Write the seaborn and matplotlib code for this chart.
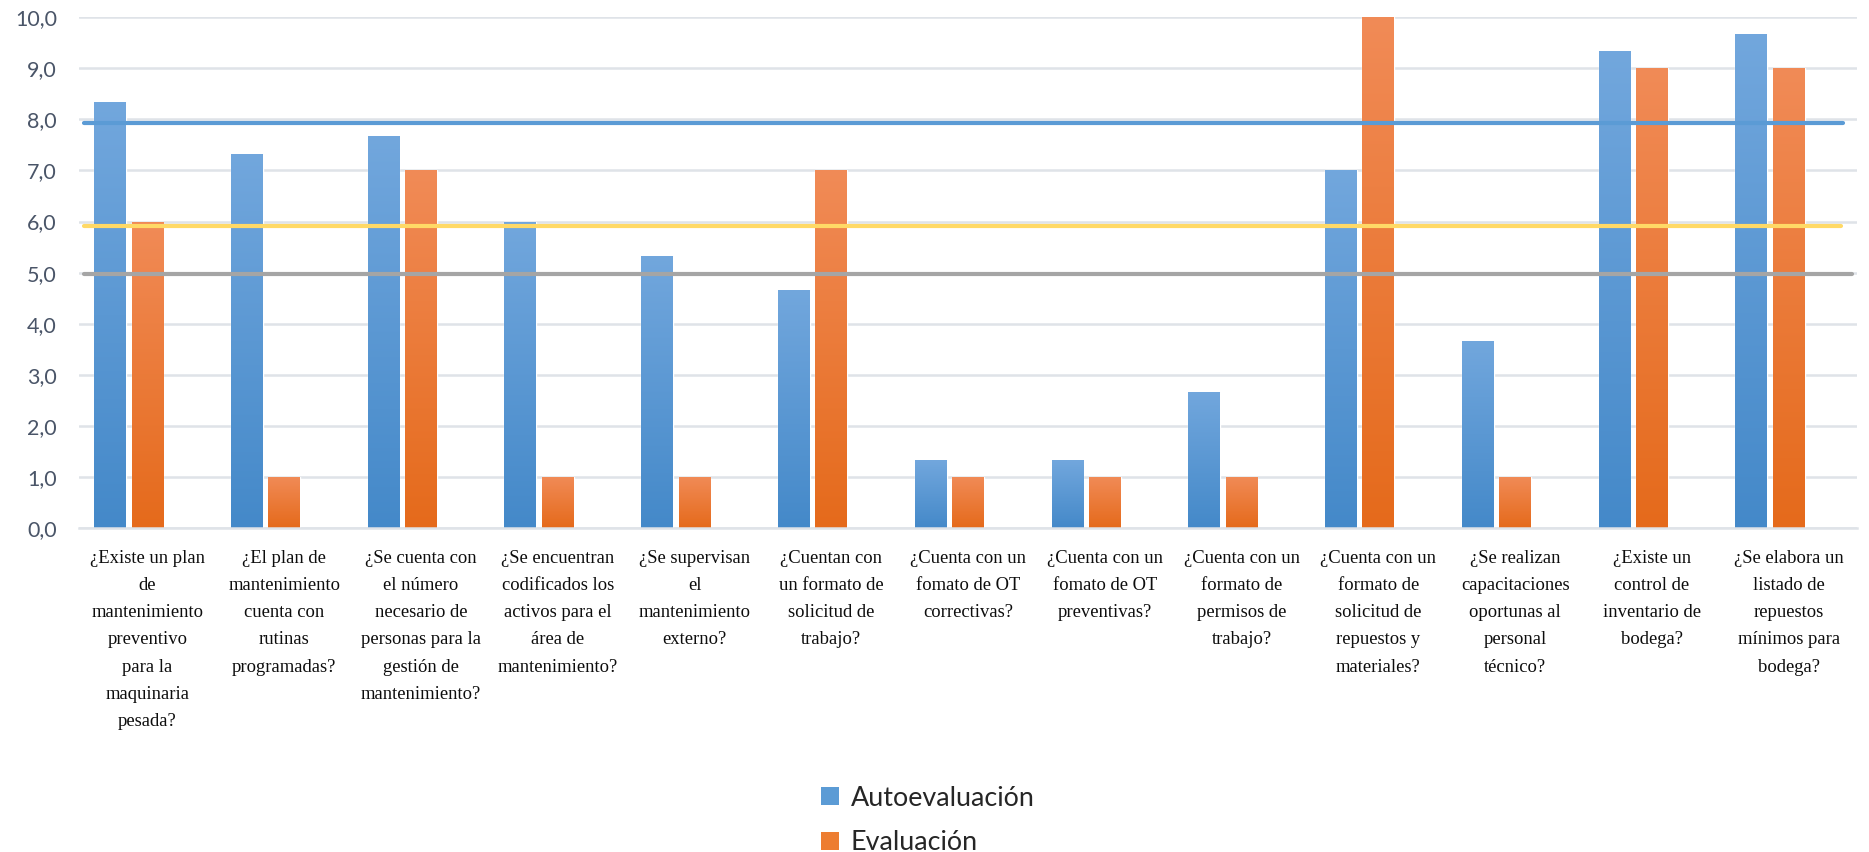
import numpy as np
import pandas as pd
import matplotlib
matplotlib.use("Agg")
import matplotlib.pyplot as plt
from matplotlib.patches import Patch
import seaborn as sns

# ---- data ----
questions = [
    "¿Existe un plan\nde\nmantenimiento\npreventivo\npara la\nmaquinaria\npesada?",
    "¿El plan de\nmantenimiento\ncuenta con\nrutinas\nprogramadas?",
    "¿Se cuenta con\nel número\nnecesario de\npersonas para la\ngestión de\nmantenimiento?",
    "¿Se encuentran\ncodificados los\nactivos para el\nárea de\nmantenimiento?",
    "¿Se supervisan\nel\nmantenimiento\nexterno?",
    "¿Cuentan con\nun formato de\nsolicitud de\ntrabajo?",
    "¿Cuenta con un\nfomato de OT\ncorrectivas?",
    "¿Cuenta con un\nfomato de OT\npreventivas?",
    "¿Cuenta con un\nformato de\npermisos de\ntrabajo?",
    "¿Cuenta con un\nformato de\nsolicitud de\nrepuestos y\nmateriales?",
    "¿Se realizan\ncapacitaciones\noportunas al\npersonal\ntécnico?",
    "¿Existe un\ncontrol de\ninventario de\nbodega?",
    "¿Se elabora un\nlistado de\nrepuestos\nmínimos para\nbodega?",
]
autoevaluacion = [8.33, 7.33, 7.67, 6.0, 5.33, 4.67, 1.33, 1.33, 2.67, 7.0, 3.67, 9.33, 9.67]
evaluacion = [6, 1, 7, 1, 1, 7, 1, 1, 1, 10, 1, 9, 9]
series_names = ["Autoevaluación", "Evaluación"]
y_ticks = [0, 1, 2, 3, 4, 5, 6, 7, 8, 9, 10]

# reference levels (value, colour, right end as axes fraction)
ref_levels = [7.92, 5.92, 4.98]
ref_colors = ["#5b9bd5", "#ffd966", "#a5a5a5"]
ref_ends = [0.992, 0.991, 0.997]

# ---- styling ----
blue_top, blue_bot = np.array([0.447, 0.655, 0.867]), np.array([0.267, 0.537, 0.788])
orange_top, orange_bot = np.array([0.945, 0.545, 0.341]), np.array([0.898, 0.416, 0.106])
grad_pairs = [(blue_top, blue_bot), (orange_top, orange_bot)]
mid_colors = ["#5b9bd5", "#ed7d31"]

sns.set_theme(style="white")
plt.rcParams["font.family"] = ["Lato", "DejaVu Sans"]

df = pd.DataFrame({
    "q": list(range(len(questions))) * 2,
    "serie": [series_names[0]] * len(questions) + [series_names[1]] * len(questions),
    "valor": autoevaluacion + evaluacion,
})

fig = plt.figure(figsize=(18.69, 8.52), dpi=100)
ax = fig.add_axes([0.0423, 0.380, 0.9513, 0.600])

# third (empty) hue slot keeps the Excel-style cluster spacing
hue_order = series_names + ["_vacío"]
sns.barplot(data=df, x="q", y="valor", hue="serie", hue_order=hue_order,
            palette=mid_colors + ["#ffffff"], width=0.82, gap=0.15,
            legend=False, ax=ax, zorder=2, errorbar=None, saturation=1)

# vertical gradient fill on every bar
grad = np.linspace(0, 1, 256)[:, None]
for ci, cont in enumerate(ax.containers[:2]):
    top, bot = grad_pairs[ci]
    img = (top[None, None, :] * (1 - grad[:, :, None]) + bot[None, None, :] * grad[:, :, None])
    for bar in cont:
        h = bar.get_height()
        if not np.isfinite(h) or h <= 0:
            continue
        x0, w = bar.get_x(), bar.get_width()
        im = ax.imshow(img, extent=[x0, x0 + w, 0, h], origin="upper",
                       aspect="auto", zorder=2.5, interpolation="bilinear")
        im.set_clip_path(bar)

ax.set_xlim(-0.5, len(questions) - 0.5)
ax.set_ylim(0, 10)

# reference lines on top of the bars
for lvl, col, end in zip(ref_levels, ref_colors, ref_ends):
    ax.axhline(lvl, xmin=0.0025, xmax=end, color=col, lw=3.0, zorder=5)

# grid and axes
ax.set_yticks(y_ticks)
ax.set_yticklabels([f"{v:.1f}".replace(".", ",") for v in y_ticks],
                   fontsize=15.5, color="#4a5568")
ax.yaxis.grid(True, color="#dfe3e8", lw=1.8, zorder=0)
ax.set_axisbelow(True)
for s in ["top", "right", "left"]:
    ax.spines[s].set_visible(False)
ax.spines["bottom"].set_color("#dfe3e8")
ax.spines["bottom"].set_linewidth(1.8)
ax.tick_params(axis="y", length=0, pad=16)
ax.tick_params(axis="x", length=0, pad=16)

ax.set_xticks(range(len(questions)))
ax.set_xticklabels(questions, fontsize=13.4, color="#0d0d0d",
                   family=["Liberation Serif", "DejaVu Serif"], linespacing=1.77,
                   va="top", ha="center")
ax.set_xlabel("")
ax.set_ylabel("")

handles = [Patch(facecolor=mid_colors[i], edgecolor="none") for i in range(2)]
fig.legend(handles, series_names, loc="center", bbox_to_anchor=(0.4965, 0.037),
           ncol=1, frameon=False, fontsize=19.4, handlelength=0.65, handleheight=0.65,
           handletextpad=0.45, labelspacing=0.72, borderpad=0.2)

fig.savefig("out.png", dpi=100)
